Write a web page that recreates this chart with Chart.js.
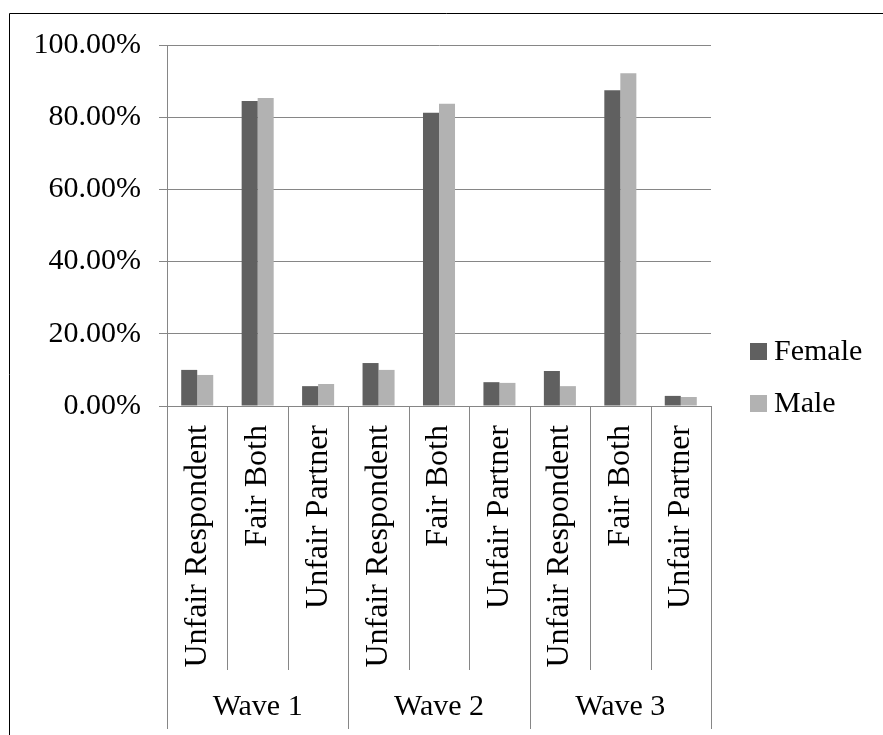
<!DOCTYPE html>
<html>
<head>
<meta charset="utf-8">
<script src="https://cdn.jsdelivr.net/npm/chart.js@4/dist/chart.umd.min.js"></script>
<style>
  html, body { margin: 0; padding: 0; background: #fff; }
  #wrap { width: 883px; height: 735px; position: relative; }
  canvas { display: block; }
</style>
</head>
<body>
<div id="wrap"><canvas id="c" width="883" height="735"></canvas></div>
<script>
// Share of responses (%) by wave, outcome and sex
const waves = ['Wave 1', 'Wave 2', 'Wave 3'];
const outcomes = ['Unfair Respondent', 'Fair Both', 'Unfair Partner'];
const female = [10.0, 84.5, 5.5, 11.9, 81.2, 6.6, 9.7, 87.5, 2.8];
const male = [8.6, 85.3, 6.1, 10.0, 83.7, 6.4, 5.5, 92.2, 2.5];
const seriesNames = ['Female', 'Male'];
const yTickValues = [0, 20, 40, 60, 80, 100];

const categories = waves.flatMap(() => outcomes);

const SERIF = "'Liberation Serif', 'Times New Roman', serif";
const AXIS_GRAY = '#868686';
const COLORS = ['#606060', '#b2b2b2'];

Chart.defaults.font.family = SERIF;
Chart.defaults.color = '#000';

// Two-level category axis: separators between outcomes and waves, plus wave names
const groupAxis = {
  id: 'groupAxis',
  afterDraw(chart) {
    const x = chart.scales.x;
    const ctx = chart.ctx;
    const n = categories.length;
    const step = (x.right - x.left) / n;
    const top = x.top;
    ctx.save();
    ctx.strokeStyle = AXIS_GRAY;
    ctx.lineWidth = 1;
    for (let i = 0; i <= n; i++) {
      const px = Math.round(x.getPixelForValue(Math.min(i, n - 1)) + (i === n ? step / 2 : -step / 2)) + 0.5;
      const isWave = i % outcomes.length === 0;
      ctx.beginPath();
      ctx.moveTo(px, top);
      ctx.lineTo(px, isWave ? 729 : 670);
      ctx.stroke();
    }
    ctx.fillStyle = '#000';
    ctx.font = '30px ' + SERIF;
    ctx.textAlign = 'center';
    ctx.textBaseline = 'middle';
    waves.forEach((w, wi) => {
      const a = x.getPixelForValue(wi * outcomes.length);
      const b = x.getPixelForValue(wi * outcomes.length + outcomes.length - 1);
      ctx.fillText(w, (a + b) / 2, 707);
    });
    ctx.restore();
  }
};

// Legend on the right and the outer frame
const sideLegend = {
  id: 'sideLegend',
  afterDraw(chart) {
    const ctx = chart.ctx;
    ctx.save();
    ctx.font = '30px ' + SERIF;
    ctx.textAlign = 'left';
    ctx.textBaseline = 'middle';
    chart.data.datasets.forEach((ds, i) => {
      const y = 343 + i * 52;
      ctx.fillStyle = ds.backgroundColor;
      ctx.fillRect(750, y, 17, 17);
      ctx.fillStyle = '#000';
      ctx.fillText(ds.label, 774, y + 9);
    });
    ctx.strokeStyle = '#000';
    ctx.lineWidth = 1;
    ctx.beginPath();
    ctx.moveTo(9.5, 740);
    ctx.lineTo(9.5, 13.5);
    ctx.lineTo(890, 13.5);
    ctx.stroke();
    ctx.restore();
  }
};

new Chart(document.getElementById('c'), {
  type: 'bar',
  data: {
    labels: categories,
    datasets: [
      { label: seriesNames[0], data: female, backgroundColor: COLORS[0] },
      { label: seriesNames[1], data: male, backgroundColor: COLORS[1] }
    ]
  },
  options: {
    responsive: false,
    animation: false,
    events: [],
    layout: { padding: { top: 45, right: 172, bottom: 0, left: 0 } },
    datasets: {
      bar: { barPercentage: 1.0, categoryPercentage: 0.53, borderWidth: 0 }
    },
    plugins: {
      legend: { display: false },
      tooltip: { enabled: false },
      title: { display: false }
    },
    scales: {
      x: {
        offset: true,
        grid: { display: false, drawTicks: false },
        border: { display: true, color: AXIS_GRAY, width: 1 },
        ticks: {
          autoSkip: false,
          minRotation: 90,
          maxRotation: 90,
          padding: 19,
          color: '#000',
          font: { size: 32, family: SERIF }
        },
        afterFit(scale) { scale.height = 329; }
      },
      y: {
        min: 0,
        max: 100,
        afterBuildTicks(scale) { scale.ticks = yTickValues.map(v => ({ value: v })); },
        grid: { color: AXIS_GRAY, lineWidth: 1, tickLength: 8, tickColor: AXIS_GRAY },
        border: { display: true, color: AXIS_GRAY, width: 1 },
        ticks: {
          padding: 18,
          color: '#000',
          font: { size: 30, family: SERIF },
          callback: v => Number(v).toFixed(2) + '%'
        },
        afterFit(scale) { scale.width = 167; }
      }
    }
  },
  plugins: [groupAxis, sideLegend]
});
</script>
</body>
</html>
